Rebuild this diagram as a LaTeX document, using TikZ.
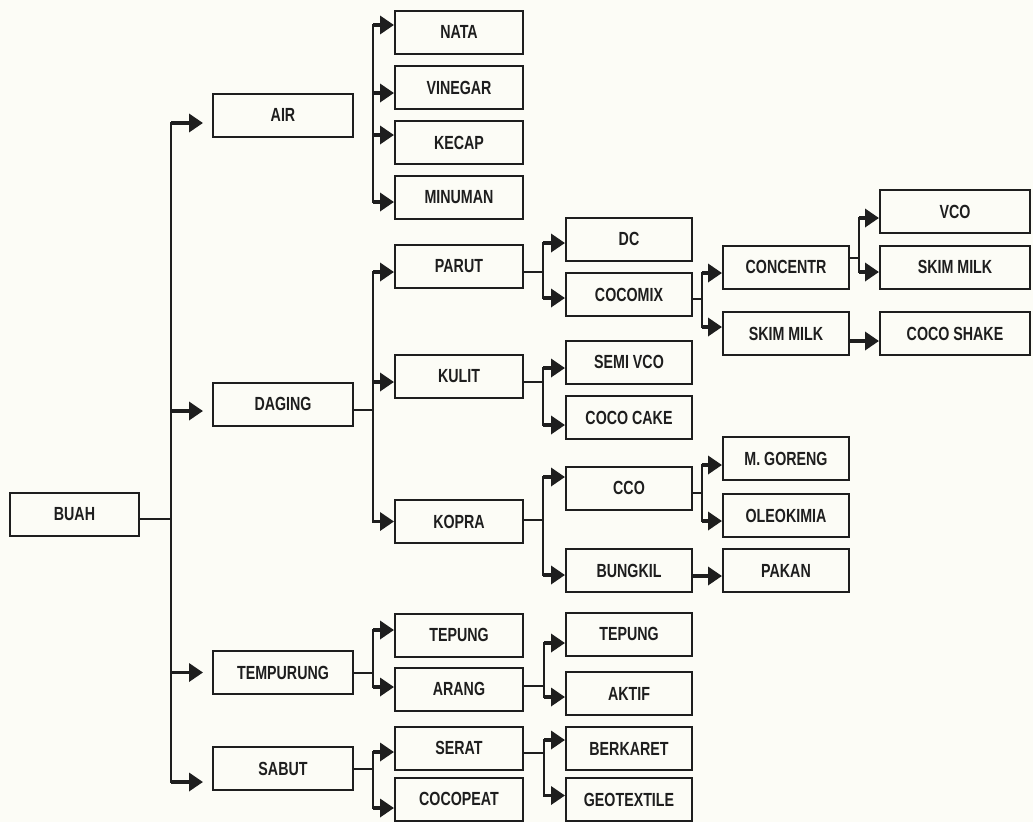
\documentclass[tikz,border=0pt]{standalone}
\usepackage{fontspec}
\setmainfont{Liberation Sans}[FakeStretch=0.75]
\usetikzlibrary{arrows.meta}
\definecolor{bg}{HTML}{FCFCF6}
\definecolor{ink}{HTML}{1E1E1E}
\newcommand\arrIn[3]{\draw[arr] ([yshift=#3]#2.west -| #1) -- ([yshift=#3]#2.west);}
\newcommand\linkOut[3]{\draw[link] ([yshift=#3]#2.east) -- ([yshift=#3]#2.east -| #1);}
\newcommand\vbar[5]{\draw[link] ([yshift=#3]#2.west -| #1) -- ([yshift=#5]#4.west -| #1);}
\tikzset{
  box/.style={draw=ink, line width=2pt, fill=bg, inner sep=0pt, minimum height=43pt,
    font=\fontsize{19}{21}\selectfont\bfseries, text=ink},
  c0/.style={minimum width=129pt},
  c1/.style={minimum width=140pt},
  c2/.style={minimum width=128pt},
  c3/.style={minimum width=126pt},
  c4/.style={minimum width=126pt},
  c5/.style={minimum width=150pt},
  link/.style={draw=ink, line width=2pt, line cap=rect},
  arr/.style={draw=ink, line width=3.5pt, -{Triangle[length=14pt,width=18pt]}},
}
\begin{document}
\begin{tikzpicture}[x=1pt,y=-1pt]
\useasboundingbox[fill=bg] (0,0) rectangle (1033,822);
% columns of junctions
\coordinate (t0) at (171,0);
\coordinate (t1) at (373,0);
\coordinate (t2) at (543,0);
\coordinate (t2b) at (544,0);
\coordinate (t3) at (702,0);
\coordinate (t4) at (859,0);
% nodes
\node[box,c0] (buah) at (74.5,514.5) {BUAH};
\node[box,c1] (air) at (283,115) {AIR};
\node[box,c1] (daging) at (283,404) {DAGING};
\node[box,c1] (tempurung) at (283,672.5) {TEMPURUNG};
\node[box,c1] (sabut) at (283,768.5) {SABUT};
\node[box,c2] (nata) at (459,32) {NATA};
\node[box,c2] (vinegar) at (459,87.5) {VINEGAR};
\node[box,c2] (kecap) at (459,142.5) {KECAP};
\node[box,c2] (minuman) at (459,197.5) {MINUMAN};
\node[box,c2] (parut) at (459,266) {PARUT};
\node[box,c2] (kulit) at (459,376.5) {KULIT};
\node[box,c2] (kopra) at (459,521.5) {KOPRA};
\node[box,c2] (tepungA) at (459,635) {TEPUNG};
\node[box,c2] (arang) at (459,689) {ARANG};
\node[box,c2] (serat) at (459,748) {SERAT};
\node[box,c2] (cocopeat) at (459,799) {COCOPEAT};
\node[box,c3] (dc) at (629,239) {DC};
\node[box,c3] (cocomix) at (629,294.5) {COCOMIX};
\node[box,c3] (semivco) at (629,362) {SEMI VCO};
\node[box,c3] (cococake) at (629,417.5) {COCO CAKE};
\node[box,c3] (cco) at (629,488) {CCO};
\node[box,c3] (bungkil) at (629,570.5) {BUNGKIL};
\node[box,c3] (tepungB) at (629,634) {TEPUNG};
\node[box,c3] (aktif) at (629,693.5) {AKTIF};
\node[box,c3] (berkaret) at (629,748.5) {BERKARET};
\node[box,c3] (geotextile) at (629,799.5) {GEOTEXTILE};
\node[box,c4] (concentr) at (786,267) {CONCENTR};
\node[box,c4] (skimA) at (786,333.5) {SKIM MILK};
\node[box,c4] (mgoreng) at (786,458.5) {M. GORENG};
\node[box,c4] (oleokimia) at (786,515.5) {OLEOKIMIA};
\node[box,c4] (pakan) at (786,570.5) {PAKAN};
\node[box,c5] (vco) at (955,211.5) {VCO};
\node[box,c5] (skimB) at (955,267) {SKIM MILK};
\node[box,c5] (cocoshake) at (955,333.5) {COCO SHAKE};
% BUAH trunk
\linkOut{t0}{buah}{-4.5pt}
\vbar{t0}{air}{-8pt}{sabut}{-13.5pt}
\draw[arr,shorten >=9pt] ([yshift=-8pt]air.west -| t0) -- ([yshift=-8pt]air.west);
\draw[arr,shorten >=9pt] ([yshift=-7pt]daging.west -| t0) -- ([yshift=-7pt]daging.west);
\draw[arr,shorten >=9pt] (tempurung.west -| t0) -- (tempurung.west);
\draw[arr,shorten >=9pt] ([yshift=-13.5pt]sabut.west -| t0) -- ([yshift=-13.5pt]sabut.west);
% AIR products
\vbar{t1}{nata}{7pt}{minuman}{-4.5pt}
\arrIn{t1}{nata}{7pt}
\arrIn{t1}{vinegar}{-5.5pt}
\arrIn{t1}{kecap}{7.5pt}
\arrIn{t1}{minuman}{-4.5pt}
% DAGING
\linkOut{t1}{daging}{-6pt}
\vbar{t1}{parut}{-6pt}{kopra}{0pt}
\arrIn{t1}{parut}{-6pt}
\arrIn{t1}{kulit}{-5.5pt}
\arrIn{t1}{kopra}{0pt}
% TEMPURUNG
\linkOut{t1}{tempurung}{0pt}
\vbar{t1}{tepungA}{5pt}{arang}{2pt}
\arrIn{t1}{tepungA}{5pt}
\arrIn{t1}{arang}{2pt}
% SABUT
\linkOut{t1}{sabut}{0pt}
\vbar{t1}{serat}{-4pt}{cocopeat}{-9pt}
\arrIn{t1}{serat}{-4pt}
\arrIn{t1}{cocopeat}{-9pt}
% PARUT
\linkOut{t2}{parut}{-6pt}
\vbar{t2}{dc}{-4pt}{cocomix}{-3.5pt}
\arrIn{t2}{dc}{-4pt}
\arrIn{t2}{cocomix}{-3.5pt}
% KULIT
\linkOut{t2}{kulit}{-5.5pt}
\vbar{t2}{semivco}{-6pt}{cococake}{-7.5pt}
\arrIn{t2}{semivco}{-6pt}
\arrIn{t2}{cococake}{-7.5pt}
% KOPRA
\linkOut{t2}{kopra}{1.5pt}
\vbar{t2}{cco}{11pt}{bungkil}{-4.5pt}
\arrIn{t2}{cco}{11pt}
\arrIn{t2}{bungkil}{-4.5pt}
% ARANG
\linkOut{t2b}{arang}{3pt}
\vbar{t2b}{tepungB}{-9pt}{aktif}{-3.5pt}
\arrIn{t2b}{tepungB}{-9pt}
\arrIn{t2b}{aktif}{-3.5pt}
% SERAT
\linkOut{t2b}{serat}{-5pt}
\vbar{t2b}{berkaret}{8.5pt}{geotextile}{4pt}
\arrIn{t2b}{berkaret}{8.5pt}
\arrIn{t2b}{geotextile}{4pt}
% COCOMIX
\linkOut{t3}{cocomix}{-4.5pt}
\vbar{t3}{concentr}{-6pt}{skimA}{6.5pt}
\arrIn{t3}{concentr}{-6pt}
\arrIn{t3}{skimA}{6.5pt}
% CCO
\linkOut{t3}{cco}{-5pt}
\vbar{t3}{mgoreng}{-6.5pt}{oleokimia}{-5.5pt}
\arrIn{t3}{mgoreng}{-6.5pt}
\arrIn{t3}{oleokimia}{-5.5pt}
% CONCENTR
\linkOut{t4}{concentr}{9pt}
\vbar{t4}{vco}{-6.5pt}{skimB}{-5pt}
\arrIn{t4}{vco}{-6.5pt}
\arrIn{t4}{skimB}{-5pt}
% direct links
\draw[arr] ([yshift=-7.5pt]skimA.east) -- ([yshift=-7.5pt]cocoshake.west);
\draw[arr] ([yshift=-5.5pt]bungkil.east) -- ([yshift=-5.5pt]pakan.west);
\end{tikzpicture}
\end{document}
